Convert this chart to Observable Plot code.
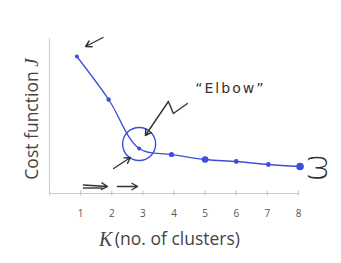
<!DOCTYPE html>
<html><head><meta charset="utf-8">
<script src="https://cdn.jsdelivr.net/npm/d3@7"></script>
<script src="https://cdn.jsdelivr.net/npm/@observablehq/plot@0.6"></script>
<style>body{margin:0;background:#fff}</style>
</head><body><div id="chart"></div>
<script>
// data
const kPos = [0.88, 1.9, 2.88, 3.92, 5, 6, 7.03, 8.05];
const costJ = [137, 94, 45, 39, 34, 32, 29, 27];
const dotR = [2, 2.2, 2, 2.6, 3.3, 2.4, 2.4, 3.8];
const tickVals = [0, 1, 2, 3, 4, 5, 6, 7, 8];
const tickLabels = ["", "1", "2", "3", "4", "5", "6", "7", "8"];
const xTitle = "(no. of clusters)";
const yTitle = "Cost function J";
const elbowLabel = "\u201CElbow\u201D";

const pts = kPos.map((k, i) => ({k, j: costJ[i], r: dotR[i]}));
const blue = "#3d4ed8";
const ink = "#333";

// annotations (data coordinates)
const elbowCircle = [{k: 2.88, j: 49.5}];
const arrows = [
  {x1: 1.72, y1: 156, x2: 1.16, y2: 147},
  {x1: 3.82, y1: 92, x2: 3.08, y2: 58},
  {x1: 2.06, y1: 25, x2: 2.60, y2: 36},
  {x1: 1.09, y1: 8.5, x2: 1.86, y2: 7},
  {x1: 2.18, y1: 7, x2: 2.83, y2: 7}
];
const zig = [{x: 4.43, y: 90}, {x: 3.98, y: 80}, {x: 3.82, y: 92}];
const dbl = [{x1: 1.09, x2: 1.72, y: 5.5}];

const chart = Plot.plot({
  width: 341, height: 263,
  marginLeft: 49, marginRight: 43, marginTop: 38, marginBottom: 70,
  x: {domain: [0, 8], axis: null},
  y: {domain: [0, 155], axis: null},
  r: {type: "identity"},
  style: {fontFamily: "'Open Sans', sans-serif", background: "#fff"},
  marks: [
    Plot.ruleY([0], {x1: 0, x2: 8, stroke: "#c8c8c8", strokeWidth: 1.2}),
    Plot.ruleX([0], {y1: 0, y2: 155, stroke: "#d0d0d0", strokeWidth: 1.2}),
    Plot.ruleX(tickVals, {y1: -2.5, y2: 2.5, stroke: "#c8c8c8", strokeWidth: 1.2}),
    Plot.text(tickVals, {x: d => d, y: -20, text: (d, i) => tickLabels[i], fontSize: 10, fill: "#555"}),
    Plot.text(["K"], {x: 2.02, y: -46, text: d => d, textAnchor: "end", fontSize: 20, fontStyle: "italic", fontFamily: "'Liberation Serif', serif", fill: "#444"}),
    Plot.text([xTitle], {x: 2.1, y: -46, text: d => d, textAnchor: "start", fontSize: 17.5, fill: "#444"}),
    Plot.text([yTitle], {frameAnchor: "left", dx: -17, dy: 3, rotate: -90, textAnchor: "middle", text: d => d, fontSize: 17.5, fill: "#444"}),
    Plot.line(pts, {x: "k", y: "j", curve: "catmull-rom", stroke: blue, strokeWidth: 1.3}),
    Plot.dot(pts, {x: "k", y: "j", r: "r", fill: blue}),
    Plot.dot(elbowCircle, {x: "k", y: "j", r: 16.5, stroke: blue, strokeWidth: 1.4, fill: "none"}),
    Plot.line(zig, {x: "x", y: "y", stroke: ink, strokeWidth: 1.4}),
    Plot.arrow(arrows, {x1: "x1", y1: "y1", x2: "x2", y2: "y2", stroke: ink, strokeWidth: 1.4, headLength: 7}),
    Plot.ruleY(dbl, {x1: "x1", x2: "x2", y: "y", stroke: ink, strokeWidth: 1.4}),
    Plot.text([elbowLabel], {x: 5.81, y: 105, text: d => d, fontSize: 14, fill: ink, fontFamily: "'DejaVu Sans', sans-serif"}),
    Plot.text(["\u03C9"], {x: 8.55, y: 26, text: d => d, rotate: -90, fontSize: 34, fill: ink, fontFamily: "'DejaVu Sans', sans-serif", fontWeight: 300})
  ]
});
// italic J in the y title
d3.select(chart).selectAll("text").filter(function(){ return this.textContent === yTitle; })
  .each(function(){
    const t = d3.select(this);
    t.text("");
    t.append("tspan").text("Cost function ");
    t.append("tspan").attr("font-style", "italic").attr("font-family", "'Liberation Serif', serif").attr("font-size", 19).text("J");
  });
d3.select(chart).selectAll("text").filter(function(){ return this.textContent === elbowLabel; }).attr("letter-spacing", 2);
document.getElementById("chart").append(chart);
</script></body></html>
